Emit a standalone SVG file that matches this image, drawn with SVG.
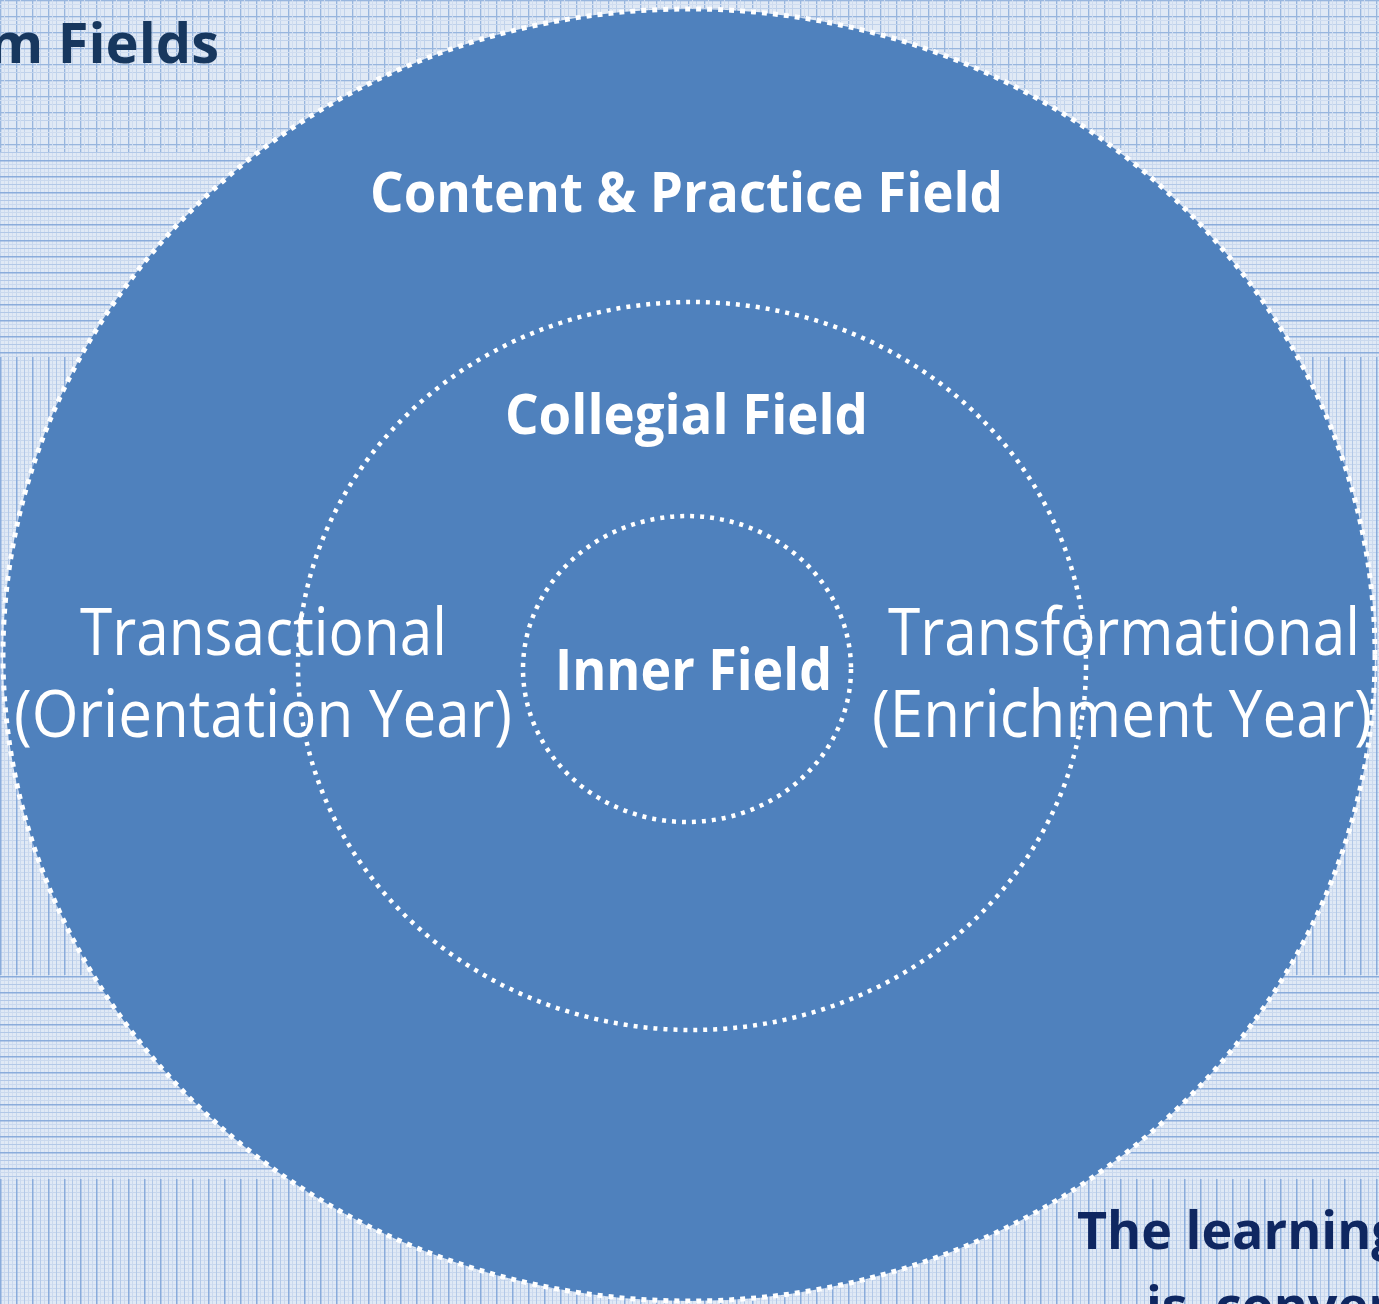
<svg xmlns="http://www.w3.org/2000/svg" width="1379" height="1304" viewBox="0 0 1379 1304">
<defs>
<pattern id="plaidV" width="16" height="8" patternUnits="userSpaceOnUse">
<rect width="16" height="8" fill="#e0e9f5"/>
<rect x="0" y="0" width="16" height="1" fill="#c6d6ed"/>
<rect x="0" y="4" width="16" height="1" fill="#d2def1"/>
<rect x="0" y="0" width="1.5" height="8" fill="#8aacdb"/>
<rect x="8" y="0" width="1" height="8" fill="#b2c8e7"/>
<rect x="4" y="0" width="1" height="8" fill="#cad9ee"/>
<rect x="12" y="0" width="1" height="8" fill="#cad9ee"/>
</pattern>
<pattern id="plaidH" width="8" height="16" patternUnits="userSpaceOnUse">
<rect width="8" height="16" fill="#e0e9f5"/>
<rect x="0" y="0" width="1" height="16" fill="#c6d6ed"/>
<rect x="4" y="0" width="1" height="16" fill="#d2def1"/>
<rect x="0" y="0" width="8" height="1.5" fill="#8aacdb"/>
<rect x="0" y="8" width="8" height="1" fill="#b2c8e7"/>
<rect x="0" y="4" width="8" height="1" fill="#cad9ee"/>
<rect x="0" y="12" width="8" height="1" fill="#cad9ee"/>
</pattern>
<pattern id="plaidM" width="16" height="16" patternUnits="userSpaceOnUse">
<rect width="16" height="16" fill="#e0e9f5"/>
<rect x="0" y="0" width="1.3" height="16" fill="#98b6de"/>
<rect x="8" y="0" width="1" height="16" fill="#c0d2eb"/>
<rect x="0" y="0" width="16" height="1.3" fill="#98b6de"/>
<rect x="0" y="8" width="16" height="1" fill="#c0d2eb"/>
<rect x="4" y="0" width="1" height="16" fill="#d0ddf0"/>
<rect x="0" y="4" width="16" height="1" fill="#d0ddf0"/>
</pattern>
</defs>
<style>
.ring{fill:none;stroke:#ffffff;stroke-dasharray:4 6;stroke-width:4.5}
.outer{stroke-dasharray:5 6;stroke-width:5}
.bold{font-family:"Open Sans","Noto Sans","Liberation Sans",sans-serif;font-weight:700}
.reg{font-family:"Open Sans","Noto Sans","Liberation Sans",sans-serif;font-weight:400}
.w{fill:#ffffff}
.navy{fill:#17375e}
</style>
<g id="background">
<rect x="0" y="0" width="1379" height="152" fill="url(#plaidM)"/>
<rect x="0" y="152" width="1379" height="205" fill="url(#plaidH)"/>
<rect x="0" y="357" width="1379" height="618" fill="url(#plaidV)"/>
<rect x="0" y="975" width="1379" height="204" fill="url(#plaidH)"/>
<rect x="0" y="1179" width="1379" height="125" fill="url(#plaidV)"/>
</g>
<g id="title">
<text class="bold navy" x="219" y="63" font-size="56" text-anchor="end">m Fields</text>
</g>
<g id="content-practice-field">
<ellipse cx="689" cy="655" rx="686" ry="646" fill="#4f81bd"/>
<ellipse class="ring outer" cx="689" cy="655" rx="686" ry="646"/>
<text class="bold w" x="370" y="212" font-size="56" textLength="633" lengthAdjust="spacingAndGlyphs">Content &amp; Practice Field</text>
</g>
<g id="collegial-field">
<ellipse class="ring" cx="692" cy="666" rx="394" ry="364"/>
<text class="bold w" x="505" y="434" font-size="56" textLength="363" lengthAdjust="spacingAndGlyphs">Collegial Field</text>
</g>
<g id="inner-field">
<ellipse class="ring" cx="687" cy="669" rx="164" ry="153"/>
<text class="bold w" x="555" y="690" font-size="57" textLength="277" lengthAdjust="spacingAndGlyphs">Inner Field</text>
</g>
<g id="transactional">
<text class="reg w" x="80" y="655" font-size="65" textLength="367" lengthAdjust="spacingAndGlyphs">Transactional</text>
<text class="reg w" x="14" y="737" font-size="65" textLength="498" lengthAdjust="spacingAndGlyphs">(Orientation Year)</text>
</g>
<g id="transformational">
<text class="reg w" x="888" y="655" font-size="65" textLength="472" lengthAdjust="spacingAndGlyphs">Transformational</text>
<text class="reg w" x="872" y="737" font-size="65" textLength="500" lengthAdjust="spacingAndGlyphs">(Enrichment Year)</text>
</g>
<g id="note">
<text class="bold" fill="#0f2761" x="1077" y="1249" font-size="52">The learning</text>
<text class="bold" fill="#0f2761" x="1146" y="1324" font-size="52" xml:space="preserve">is  conver</text>
</g>
</svg>
